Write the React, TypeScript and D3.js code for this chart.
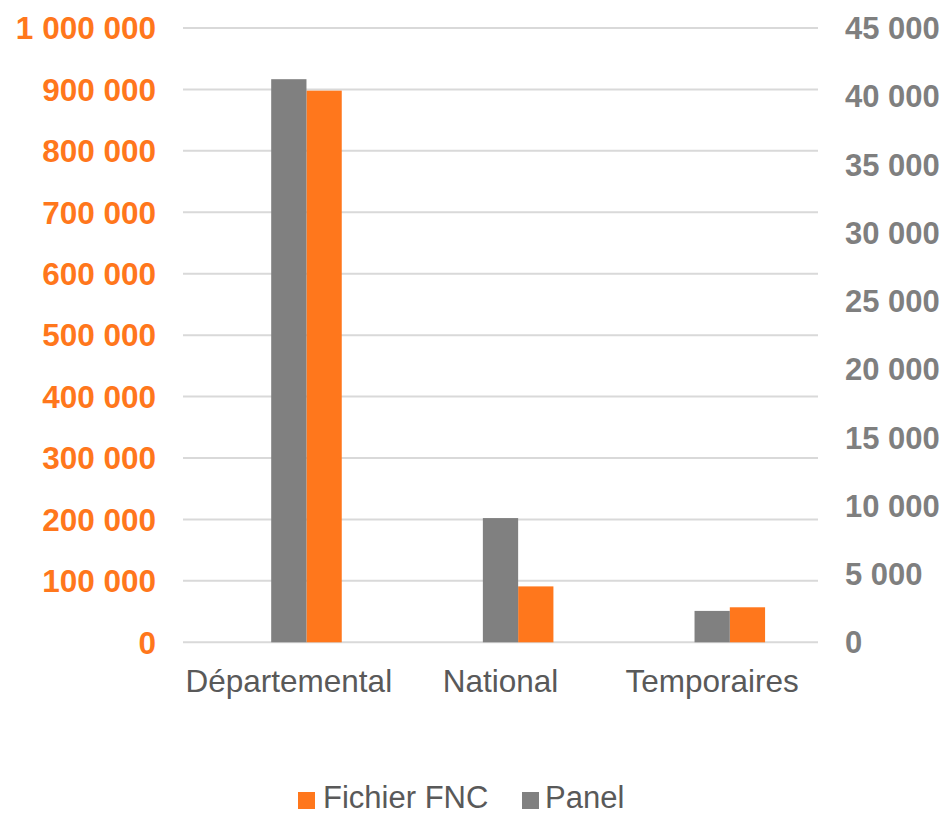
import React from "react";
import * as d3 from "d3";

const categories = ["Départemental", "National", "Temporaires"];
const fichierFNC = [898000, 91000, 57000];
const panel = [41250, 9100, 2300];
const leftTicks = [0, 100000, 200000, 300000, 400000, 500000, 600000, 700000, 800000, 900000, 1000000];
const rightTicks = [0, 5000, 10000, 15000, 20000, 25000, 30000, 35000, 40000, 45000];
const legendItems = ["Fichier FNC", "Panel"];

const ORANGE = "#FF771C";
const GRAY = "#808080";
const TEXT_GRAY = "#595959";
const FONT = "'Liberation Sans', Arial, sans-serif";

const fmt = (v: number) => d3.format(",")(v).replace(/,/g, " ");

export default function App() {
  const W = 946, H = 814;
  const x0 = 183, x1 = 818, yTop = 28, yBottom = 642.3;
  const x = d3.scaleBand<string>().domain(categories).range([x0, x1]).padding(0);
  const yL = d3.scaleLinear().domain([0, 1000000]).range([yBottom, yTop]);
  const yR = d3.scaleLinear().domain([0, 45000]).range([yBottom, yTop]);
  const bw = x.bandwidth() / 6;

  return (
    <svg width={W} height={H} style={{ position: "absolute", left: 0, top: 0, background: "#fff" }}>
      {leftTicks.map((t) => (
        <line key={"g" + t} x1={x0} x2={x1} y1={yL(t)} y2={yL(t)} stroke="#D9D9D9" strokeWidth={2} />
      ))}
      {categories.map((c, i) => {
        const cx = (x(c) as number) + x.bandwidth() / 2;
        return (
          <g key={c}>
            <rect x={cx + bw / 2} y={yL(fichierFNC[i])} width={bw} height={yBottom - yL(fichierFNC[i])} fill={ORANGE} />
            <rect x={cx - bw / 2} y={yR(panel[i])} width={bw} height={yBottom - yR(panel[i])} fill={GRAY} />
            <text x={cx} y={692} textAnchor="middle" fontFamily={FONT} fontSize={31.5} fill={TEXT_GRAY}>{c}</text>
          </g>
        );
      })}
      {leftTicks.map((t) => (
        <text key={"l" + t} x={156} y={yL(t)} dy="0.36em" textAnchor="end" fontFamily={FONT} fontSize={31.5} fontWeight="bold" fill={ORANGE}>{fmt(t)}</text>
      ))}
      {rightTicks.map((t) => (
        <text key={"r" + t} x={845} y={yR(t)} dy="0.36em" textAnchor="start" fontFamily={FONT} fontSize={31} fontWeight="bold" fill="#7F7F7F">{fmt(t)}</text>
      ))}
      <g>
        <rect x={298} y={792} width={17} height={17} fill={ORANGE} />
        <text x={323} y={808} fontFamily={FONT} fontSize={31} fill={TEXT_GRAY}>{legendItems[0]}</text>
        <rect x={522} y={792} width={17} height={17} fill={GRAY} />
        <text x={545} y={808} fontFamily={FONT} fontSize={31} fill={TEXT_GRAY}>{legendItems[1]}</text>
      </g>
    </svg>
  );
}
